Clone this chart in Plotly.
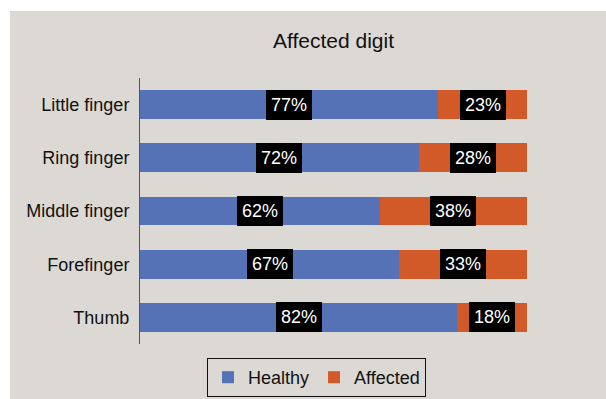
import plotly.graph_objects as go

categories = ["Little finger", "Ring finger", "Middle finger", "Forefinger", "Thumb"]
healthy = [77, 72, 62, 67, 82]
affected = [23, 28, 38, 33, 18]
title_text = "Affected digit"

BG = "#dcd9d4"
BLUE = "#5572b7"
ORANGE = "#d25a28"
FONT = "Liberation Sans, Arial, sans-serif"

W, H = 606, 399
ML, MR, MT, MB = 140, 79, 78, 55

fig = go.Figure()
fig.add_trace(go.Bar(y=categories, x=healthy, name="Healthy", orientation="h",
                     marker=dict(color=BLUE, line=dict(width=0)), width=0.54))
fig.add_trace(go.Bar(y=categories, x=affected, name="Affected", orientation="h",
                     marker=dict(color=ORANGE, line=dict(width=0)), width=0.54))

for c, h, a in zip(categories, healthy, affected):
    for xc, v in ((h / 2, h), (h + a / 2, a)):
        fig.add_annotation(x=xc, y=c, xref="x", yref="y", text=f"{v}%", showarrow=False,
                           font=dict(family=FONT, size=18, color="white"),
                           bgcolor="black", borderpad=5, borderwidth=0)

pw = W - ML - MR
ph = H - MT - MB
# gray panel background (white strip at top-left)
fig.add_shape(type="rect", xref="paper", yref="paper", layer="below",
              x0=(10 - ML) / pw, x1=(W + 5 - ML) / pw,
              y0=(H - MB - (H + 5)) / ph, y1=(H - MB - 11) / ph,
              fillcolor=BG, line=dict(width=0))

fig.update_layout(
    width=W, height=H, barmode="stack",
    margin=dict(l=ML, r=MR, t=MT, b=MB, autoexpand=False),
    paper_bgcolor="white", plot_bgcolor="rgba(0,0,0,0)",
    font=dict(family=FONT, size=18, color="#111111"),
    title=dict(text=title_text, x=(ML + pw / 2) / W, xanchor="center", y=1 - 41 / H, yanchor="middle",
               font=dict(family=FONT, size=21, color="#111111")),
    xaxis=dict(range=[0, 100], visible=False, fixedrange=True),
    yaxis=dict(autorange="reversed", showline=True, linecolor="#555555", linewidth=1,
               showgrid=False, ticks="", ticklabelstandoff=6, tickfont=dict(size=18)),
    bargap=0.46,
    legend=dict(orientation="h", x=316.5 / W, xref="container", xanchor="center",
                y=1 - 377.5 / H, yref="container", yanchor="middle",
                bgcolor=BG, bordercolor="#111111", borderwidth=1,
                font=dict(size=18), itemwidth=30, traceorder="normal",
                tracegroupgap=0),
    showlegend=True,
)

fig.write_html("out.html")
